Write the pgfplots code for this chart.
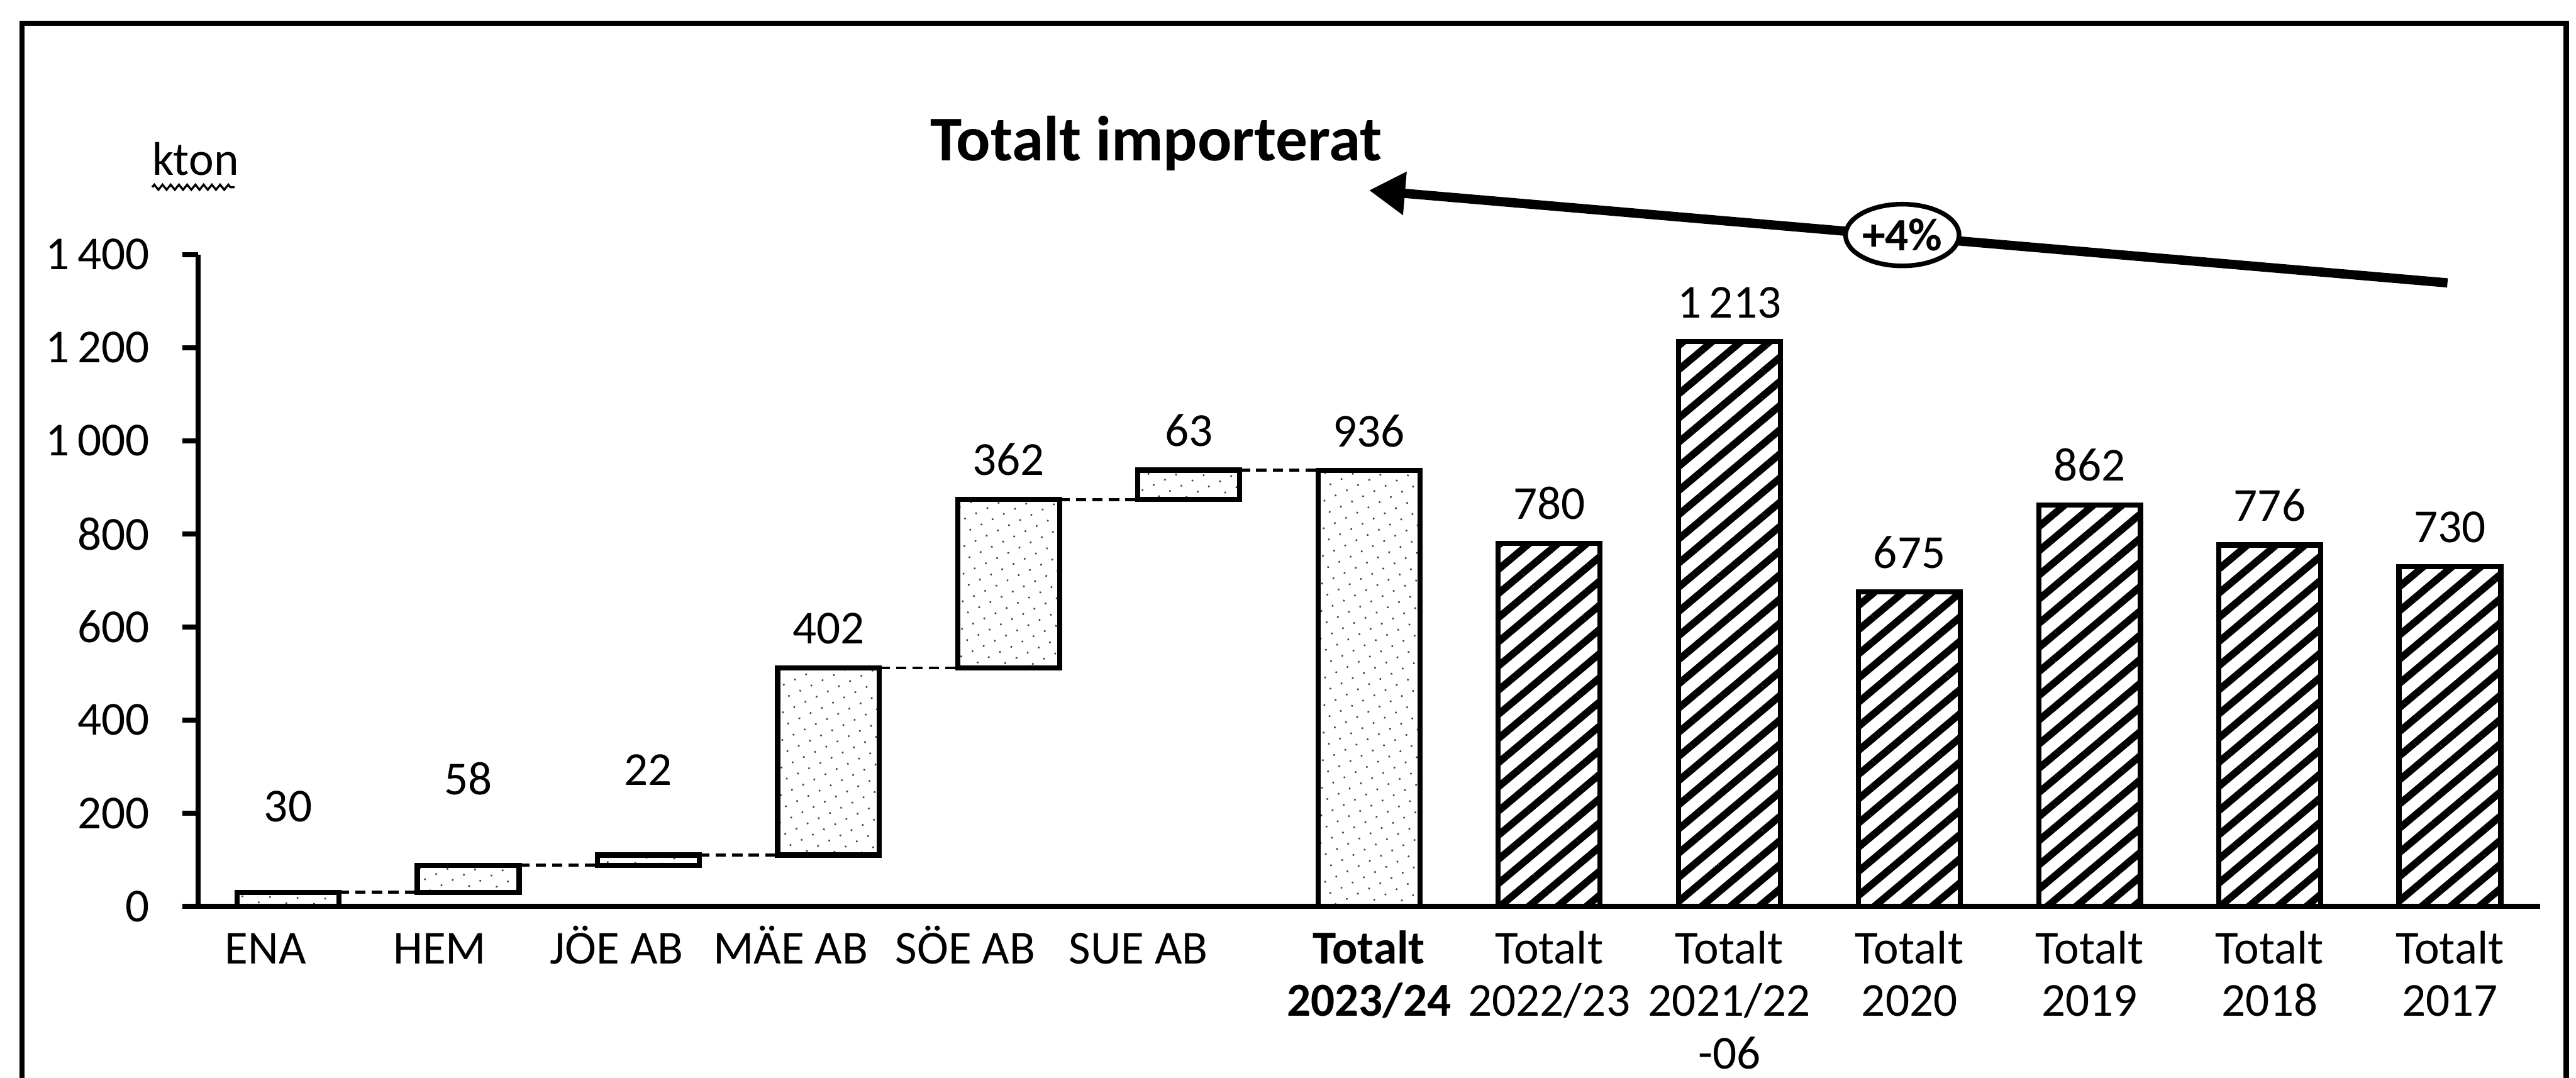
\documentclass[border=0pt]{standalone}
\usepackage{pgfplots}
\pgfplotsset{compat=1.18}
\usepackage{pgfplotstable}
\usepackage{fontspec}
\setmainfont{Carlito}
\usetikzlibrary{patterns.meta,arrows.meta,decorations.pathmorphing,shapes.geometric}

\pgfplotstableread{
x base inc off
0 0 30 9
1 30 58 9
2 88 22 9
3 110 402 0
4 512 362 0
5 874 63 0
6 0 936 0
}\waterfall
\pgfplotstableread{
x val
7 780
8 1213
9 675
10 862
11 776
12 730
}\history

\newcommand\lbl[1]{\fontsize{9.2pt}{10.2pt}\selectfont\begin{tabular}[t]{@{}c@{}}#1\end{tabular}}

\begin{document}
\begin{tikzpicture}
\path[use as bounding box] (0,0) rectangle (500.9pt,209.5pt);
\draw[line width=1pt] (4.3pt,-2pt) -- (4.3pt,205pt) -- (499pt,205pt) -- (499pt,-2pt);
\begin{axis}[
  at={(38.5pt,33.3pt)}, anchor=south west,
  x=35.03pt, y=0.0905pt,
  xmin=-0.5, xmax=12.5, ymin=0, ymax=1400,
  clip=false,
  axis x line*=bottom, axis y line*=left,
  axis line style={line width=1pt, black},
  xtick={-0.125,0.842,1.825,2.79,3.76,4.72,6,7,8,9,10,11,12},
  xticklabels={{\lbl{ENA}},{\lbl{HEM}},{\lbl{JÖE AB}},{\lbl{MÄE AB}},{\lbl{SÖE AB}},{\lbl{SUE AB}},{\lbl{\textbf{Totalt}\\\textbf{2023/24}}},{\lbl{Totalt\\2022/23}},{\lbl{Totalt\\2021/22\\-06}},{\lbl{Totalt\\2020}},{\lbl{Totalt\\2019}},{\lbl{Totalt\\2018}},{\lbl{Totalt\\2017}}},
  x tick style={draw=none},
  xticklabel style={anchor=base, inner sep=0pt, yshift=-8.2pt},
  ytick={0,200,...,1400},
  y tick style={line width=1pt, black},
  tick align=outside, major tick length=3pt,
  yticklabel style={anchor=east, inner sep=0pt, xshift=-6.2pt, font=\fontsize{9.2pt}{11pt}\selectfont},
  /pgf/number format/assume math mode=true,
  /pgf/number format/1000 sep={\hspace{0.17em}},
  scaled y ticks=false,
  bar width=0.565,
  every node near coord/.append style={font=\fontsize{9.2pt}{11pt}\selectfont, inner sep=0pt, anchor=south, text=black},
]
% connectors
\addplot[black, line width=0.6pt, dash pattern=on 2pt off 1.2pt, unbounded coords=jump] coordinates {(0.2825,30) (0.7175,30) (1,nan) (1.2825,88) (1.7175,88) (2,nan) (2.2825,110) (2.7175,110) (3,nan) (3.2825,512) (3.7175,512) (4,nan) (4.2825,874) (4.7175,874) (5,nan) (5.2825,937) (5.7175,937)};
% waterfall (floating) bars
\addplot[ybar, bar shift=0pt, stack plots=y, draw=none, fill=none] table[x=x,y=base] {\waterfall};
\addplot[ybar, bar shift=0pt, stack plots=y, draw=black, line width=1pt, pattern={Dots[distance=2.4pt, radius=0.22pt, angle=25]}, pattern color=black!75] table[x=x,y=inc] {\waterfall};
% historical totals
\addplot[ybar, bar shift=0pt, stack plots=false, draw=black, line width=1pt, pattern={Lines[angle=40, distance=3.6pt, line width=1.4pt]}, pattern color=black] table[x=x,y=val] {\history};
% value labels
\addplot[stack plots=false, only marks, mark=*, mark size=0pt, mark options={draw=none,fill=none}, nodes near coords, point meta=explicit,
  visualization depends on={\thisrow{off} \as \labeloff},
  nodes near coords style={yshift=4.4pt+\labeloff pt}] table[x=x, y expr=\thisrow{base}+\thisrow{inc}, meta=inc] {\waterfall};
\addplot[stack plots=false, only marks, mark=*, mark size=0pt, mark options={draw=none,fill=none}, nodes near coords, point meta=explicit,
  nodes near coords style={yshift=4.4pt}] table[x=x, y=val, meta=val] {\history};
\end{axis}
\node[anchor=base west, inner sep=0pt, font=\bfseries\fontsize{12.4pt}{14pt}\selectfont] at (180.7pt,178.3pt) {Totalt importerat};
\node[anchor=base west, inner sep=0pt, font=\fontsize{9.2pt}{11pt}\selectfont] at (29.4pt,175.5pt) {kton};
\draw[decorate, decoration={zigzag, segment length=1.6pt, amplitude=0.5pt}, line width=0.4pt] (29.6pt,173.1pt) -- (45.6pt,173.1pt);
\draw[line width=1.8pt, -{Triangle[length=7pt,width=8pt]}] (475.9pt,154.5pt) -- (266.2pt,172.5pt);
\node[ellipse, draw, line width=0.9pt, fill=white, minimum width=20pt, minimum height=12pt, inner sep=0pt, font=\bfseries\fontsize{9pt}{10pt}\selectfont] at (369.9pt,163.8pt) {+4\%};
\end{tikzpicture}
\end{document}
